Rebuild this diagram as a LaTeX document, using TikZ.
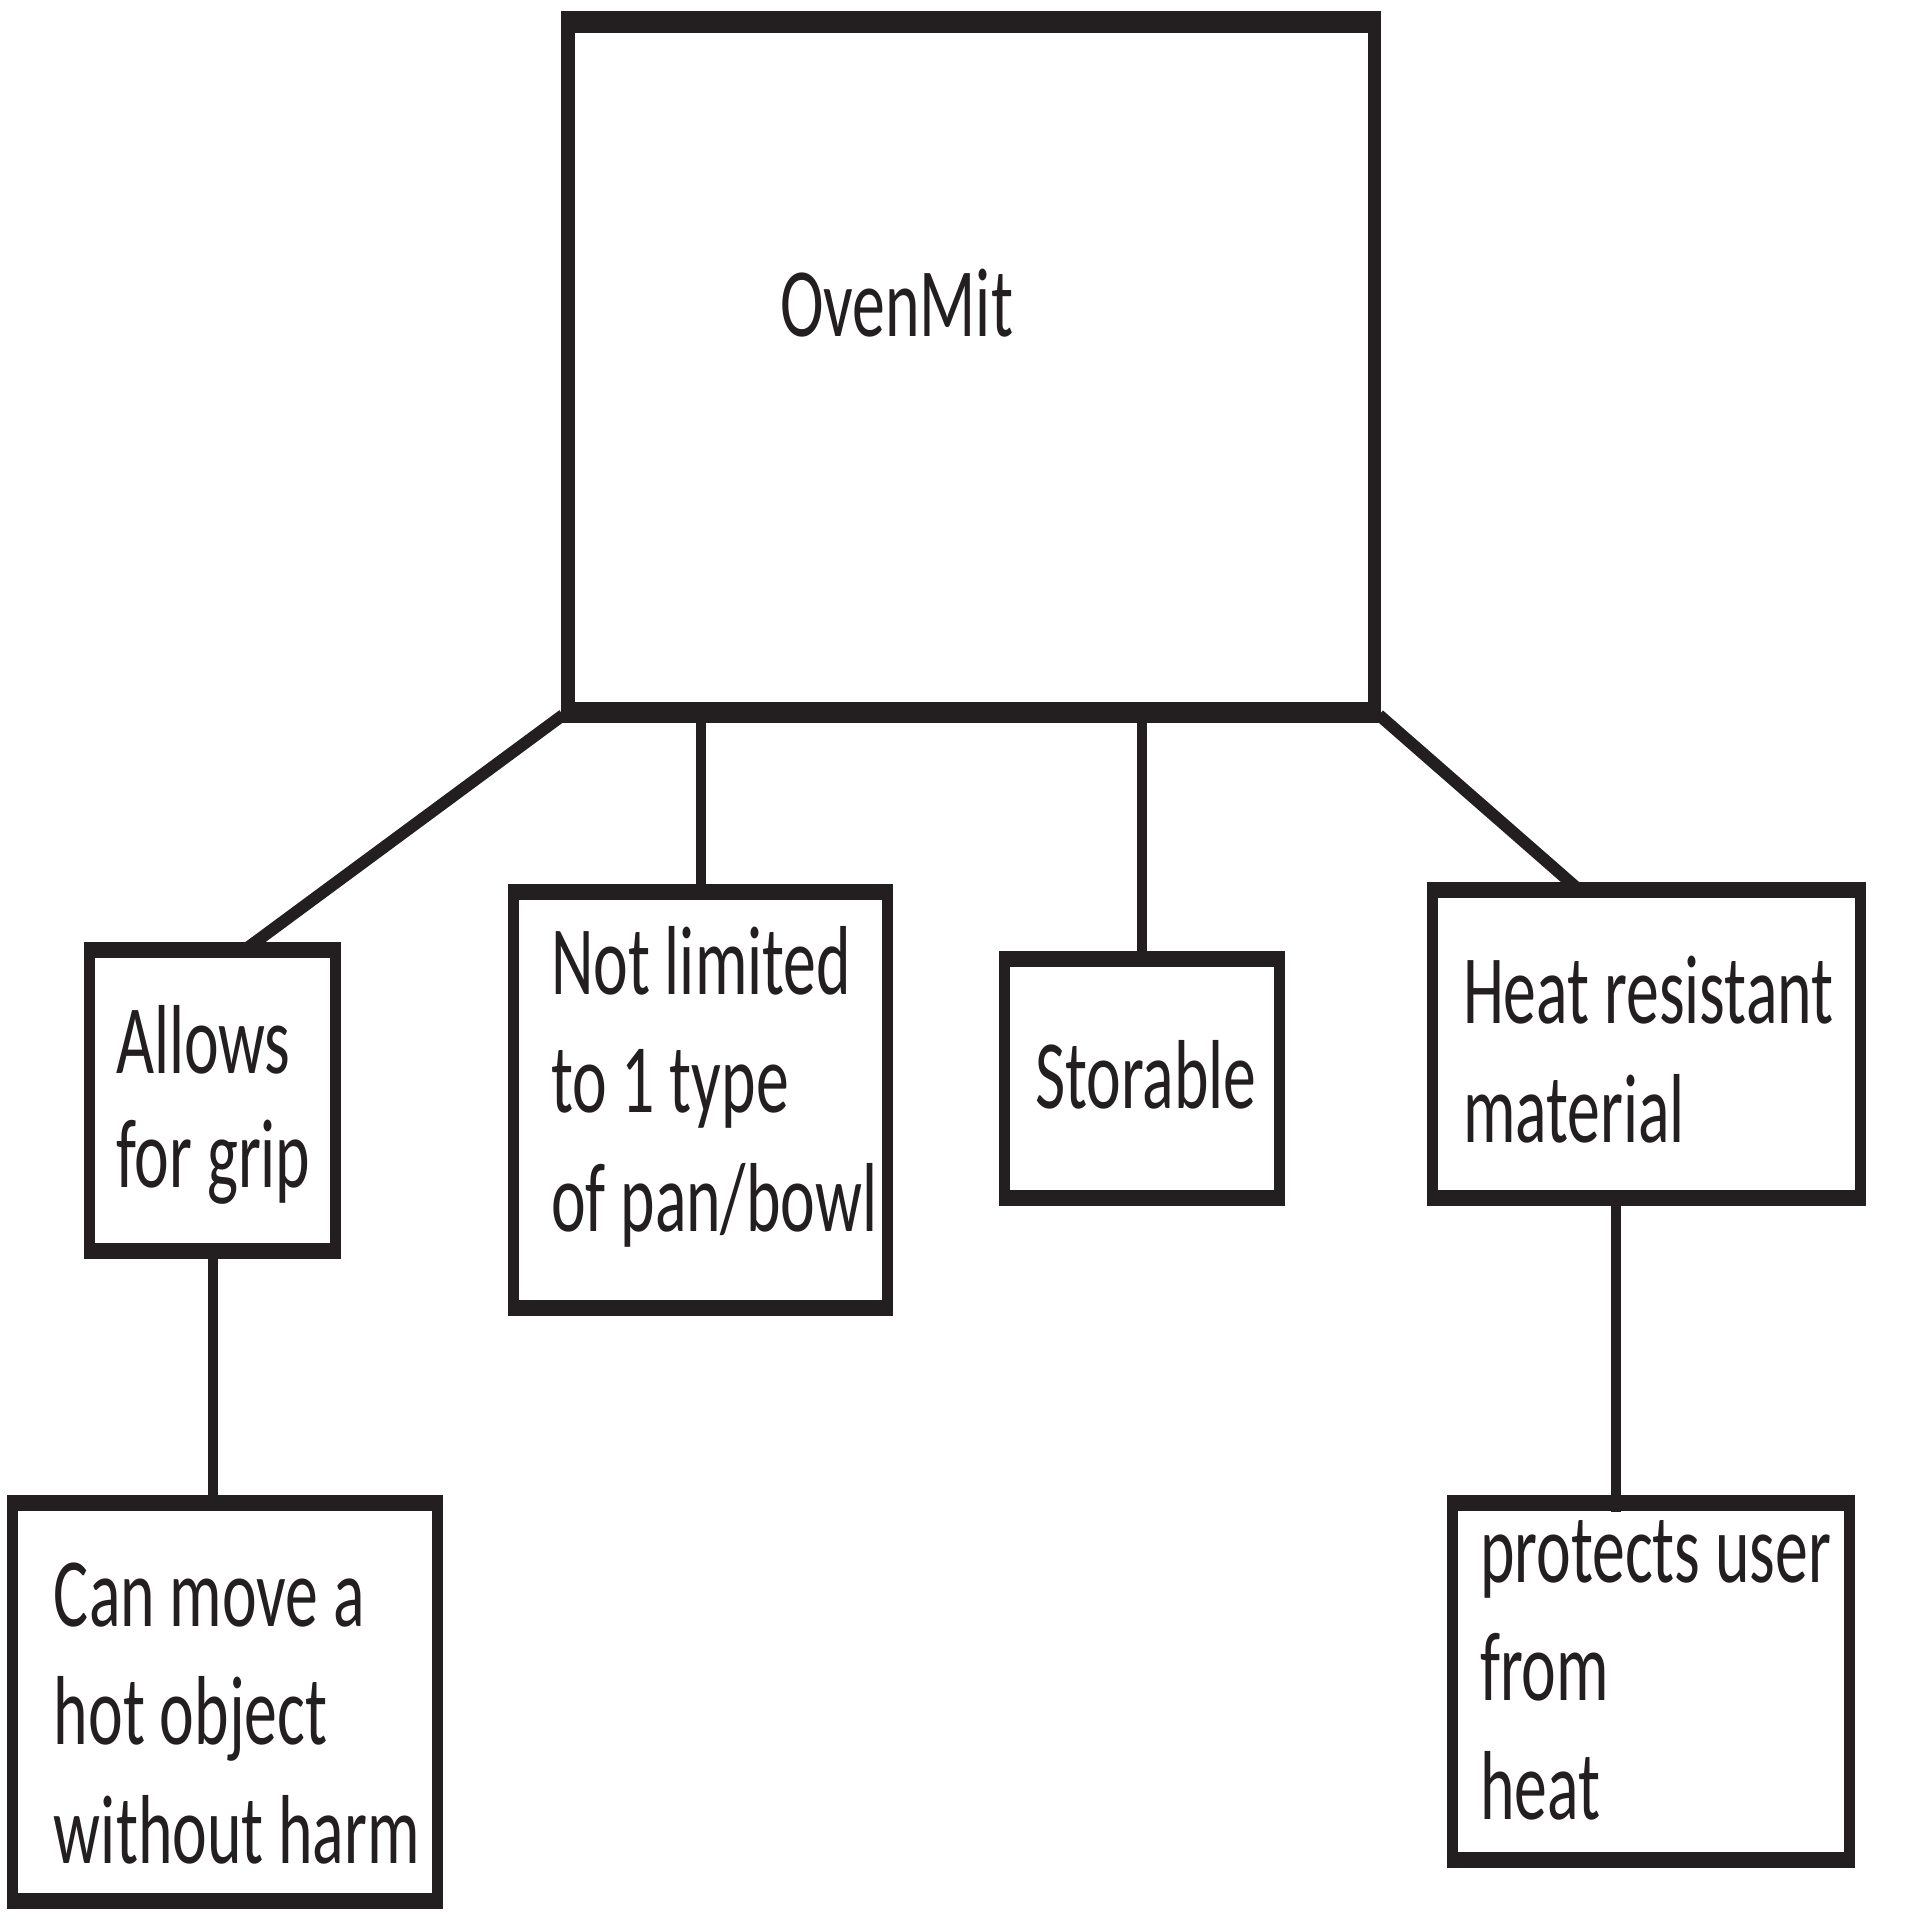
\documentclass[tikz,border=0pt]{standalone}
\usepackage{fontspec}
\setmainfont[FakeStretch=0.67]{Carlito}
\usetikzlibrary{fit}
\definecolor{ink}{HTML}{231F20}
\tikzset{
  frame/.style n args={2}{inner sep=0pt, outer sep=0pt, draw=none,
    path picture={
      \fill[ink] (path picture bounding box.south west) rectangle (path picture bounding box.north east);
      \fill[white] ([shift={(#1,#2)}]path picture bounding box.south west) rectangle ([shift={(-#1,-#2)}]path picture bounding box.north east);
    }},
  bigframe/.style={frame={1.35mm}{2.15mm}},
  smallframe/.style={frame={1.07mm}{1.6mm}},
  txt/.style={inner sep=0pt, outer sep=0pt, align=left, anchor=base west, text=ink,
    font=\fontsize{27.9pt}{33.6pt}\selectfont},
  link/.style={draw=ink, line width=1.05mm},
  slant/.style={draw=ink, line width=1.2mm},
}
\begin{document}
\begin{tikzpicture}[x=0.1mm, y=-0.1mm]
\useasboundingbox[fill=white] (0,0) rectangle (1920,1920);
% boxes
\node[bigframe, fit={(561,11) (1381,723)}] (main) {};
\node[smallframe, fit={(84,942) (341,1259)}] (grip) {};
\node[smallframe, fit={(508,884) (893,1316)}] (type) {};
\node[smallframe, fit={(999,951) (1285,1206)}] (store) {};
\node[smallframe, fit={(1427,882) (1866,1206)}] (heat) {};
\node[smallframe, fit={(7,1495) (443,1909)}] (move) {};
\node[smallframe, fit={(1447,1495) (1855,1868)}] (protect) {};
% texts (anchored at the baseline of the last line)
\node[txt] (tmain) at (780,336) {OvenMit};
\node[txt, font=\fontsize{27.9pt}{32.3pt}\selectfont] (tgrip) at (116,1187) {Allows\\for grip};
\node[txt] (ttype) at (551,1231) {Not limited\\to 1 type\\of pan/bowl};
\node[txt] (tstore) at (1035,1108) {Storable};
\node[txt] (theat) at (1463,1142) {Heat resistant\\material};
\node[txt] (tmove) at (54,1863) {Can move a\\hot object\\without harm};
\node[txt] (tprotect) at (1480,1819) {protects user\\from\\heat};
% connectors
\draw[slant] ([xshift=0.2mm, yshift=0.8mm]main.south west) -- ([xshift=16.2mm, yshift=-0.7mm]grip.north west);
\draw[slant] ([xshift=-0.2mm, yshift=0.8mm]main.south east) -- ([xshift=15.1mm, yshift=-0.7mm]heat.north west);
\draw[link] ([yshift=0.5mm]main.south west -| 701,0) -- ([yshift=-0.5mm]type.north west -| 701,0);
\draw[link] ([yshift=0.5mm]main.south west -| 1142,0) -- ([yshift=-0.5mm]store.north west -| 1142,0);
\draw[link] ([yshift=0.5mm]grip.south west -| 213,0) -- ([yshift=-0.5mm]move.north west -| 213,0);
\draw[link] ([yshift=0.5mm]heat.south west -| 1616,0) -- ([yshift=-1.7mm]protect.north west -| 1616,0);
\end{tikzpicture}
\end{document}
